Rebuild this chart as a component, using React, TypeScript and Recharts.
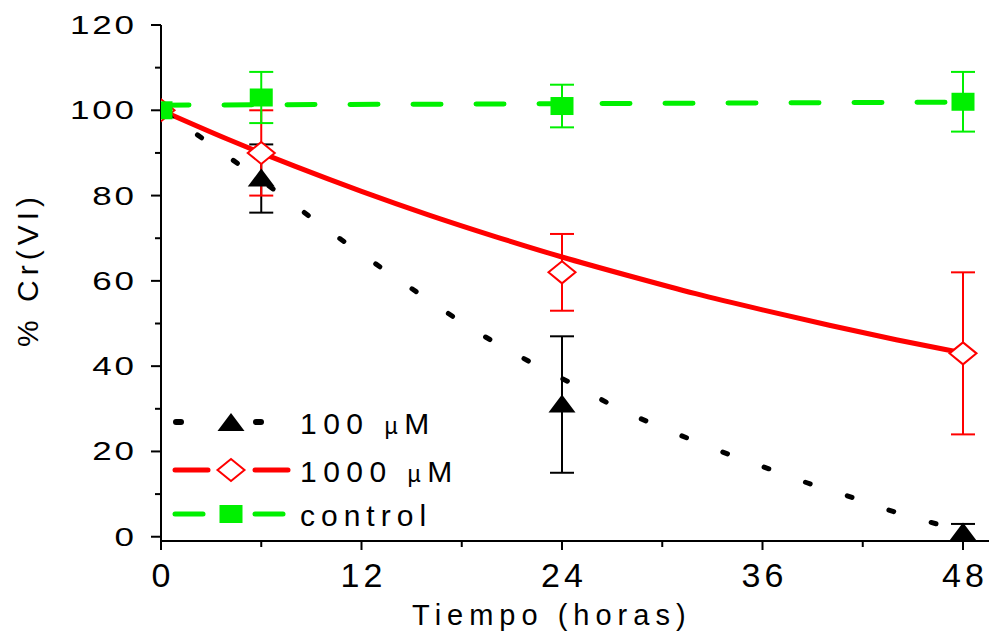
import React from 'react';
import { ComposedChart, Line, Scatter, XAxis, YAxis, ErrorBar } from 'recharts';

// Measured points
const hours = [0, 6, 24, 48];
const cr100 = [100, 84, 31, 1];
const cr100Err = [0, 8, 16, 2];
const cr1000 = [100, 90, 62, 43];
const cr1000Err = [0, 10, 9, 19];
const controlVals = [100, 103, 101, 102];
const controlErr = [0, 6, 5, 7];

// Fitted curves
const fit100Hours = [0, 2.45, 4.7, 6.9, 9.2, 11.5, 13.8, 16.1, 18.3, 20.6, 22.9, 25.1, 27.3, 29.6, 31.9, 34.2, 36.4, 38.7, 41.0, 43.2, 45.5, 48];
const fit100Values = [100, 93.5, 87.2, 81, 74.2, 67.7, 61.4, 55.3, 49.5, 44.2, 39.3, 34.9, 30.2, 26.2, 22.5, 19.0, 15.9, 12.6, 9.7, 6.7, 4.0, 1.4];
const fit1000Hours = [0, 4, 8, 12, 16, 20, 24, 28, 32, 36, 40, 44, 48];
const fit1000Values = [100, 93.2, 86.9, 81.0, 75.5, 70.4, 65.6, 61.2, 57.0, 53.2, 49.6, 46.2, 43.1];
const fitControlHours = [0, 48];
const fitControlValues = [101.2, 101.9];

// Axis ticks
const xTicks = [0, 6, 12, 18, 24, 30, 36, 42, 48];
const xMajor = [0, 12, 24, 36, 48];
const yTicks = [0, 10, 20, 30, 40, 50, 60, 70, 80, 90, 100, 110, 120];
const yMajor = [0, 20, 40, 60, 80, 100, 120];

const legendLabels = ['100 ', '1000 ', 'control'];

const FONT = '"Liberation Sans", Arial, sans-serif';
const BLACK = '#000000';
const RED = '#ff0000';
const GREEN = '#00f000';

const toPoints = (xs: number[], ys: number[], errs?: number[]) =>
  xs.map((x, i) => ({ x, y: ys[i], err: errs ? errs[i] : 0 }));

const pts100 = toPoints(hours, cr100, cr100Err);
const pts1000 = toPoints(hours, cr1000, cr1000Err);
const ptsControl = toPoints(hours, controlVals, controlErr);
const fit100 = toPoints(fit100Hours, fit100Values);
const fit1000 = toPoints(fit1000Hours, fit1000Values);
const fitControl = toPoints(fitControlHours, fitControlValues);

const Triangle = (props: any) => {
  const { cx, cy } = props;
  return <polygon points={`${cx},${cy - 10} ${cx - 13.5},${cy + 8} ${cx + 13.5},${cy + 8}`} fill={BLACK} />;
};
const Diamond = (props: any) => {
  const { cx, cy } = props;
  return (
    <polygon
      points={`${cx},${cy - 11} ${cx + 13.5},${cy} ${cx},${cy + 11} ${cx - 13.5},${cy}`}
      fill="#ffffff"
      stroke={RED}
      strokeWidth={2}
    />
  );
};
const Square = (props: any) => {
  const { cx, cy } = props;
  return <rect x={cx - 11.5} y={cy - 9} width={23} height={18} fill={GREEN} />;
};

const XTick = (props: any) => {
  const { x, y, payload } = props;
  const major = xMajor.includes(payload.value);
  return (
    <g>
      <line x1={x} y1={y} x2={x} y2={y + (major ? 9 : 6)} stroke={BLACK} strokeWidth={2} />
      {major && (
        <text
          x={x + 2}
          y={y + 46}
          textAnchor="middle"
          fontFamily={FONT}
          fontSize={34}
          letterSpacing={4}
          fill={BLACK}
        >
          {payload.value}
        </text>
      )}
    </g>
  );
};

const YTick = (props: any) => {
  const { x, y, payload } = props;
  const major = yMajor.includes(payload.value);
  return (
    <g>
      <line x1={x - (major ? 10 : 6)} y1={y} x2={x} y2={y} stroke={BLACK} strokeWidth={2} />
      {major && (
        <text
          transform={`translate(${x - 27},${y + 9}) scale(1.4,1)`}
          textAnchor="end"
          fontFamily={FONT}
          fontSize={25}
          letterSpacing={2}
          dx={2}
          fill={BLACK}
        >
          {payload.value}
        </text>
      )}
    </g>
  );
};

const XTitle = () => (
  <text
    x={412}
    y={625}
    fontFamily={FONT}
    fontSize={29}
    letterSpacing={6}
    fill={BLACK}
  >
    Tiempo (horas)
  </text>
);

const YTitle = () => (
  <text
    transform="translate(38,272) rotate(-90)"
    textAnchor="middle"
    fontFamily={FONT}
    fontSize={30}
    letterSpacing={5}
    dx={2.5}
    fill={BLACK}
  >
    % Cr(VI)
  </text>
);

const LegendOverlay = () => {
  const rows = [422, 470, 514];
  const textX = 300;
  return (
    <svg
      width={989}
      height={640}
      style={{ position: 'absolute', left: 0, top: 0, pointerEvents: 'none' }}
    >
      {/* 100 uM */}
      <line x1={176} y1={rows[0]} x2={181} y2={rows[0]} stroke={BLACK} strokeWidth={6} strokeLinecap="round" />
      <line x1={256} y1={rows[0]} x2={261} y2={rows[0]} stroke={BLACK} strokeWidth={6} strokeLinecap="round" />
      <Triangle cx={231} cy={rows[0] + 1} />
      {/* 1000 uM */}
      <line x1={175} y1={rows[1]} x2={208} y2={rows[1]} stroke={RED} strokeWidth={5} strokeLinecap="round" />
      <line x1={255} y1={rows[1]} x2={288} y2={rows[1]} stroke={RED} strokeWidth={5} strokeLinecap="round" />
      <Diamond cx={231} cy={rows[1]} />
      {/* control */}
      <line x1={175} y1={rows[2]} x2={203} y2={rows[2]} stroke={GREEN} strokeWidth={5} strokeLinecap="round" />
      <line x1={255} y1={rows[2]} x2={283} y2={rows[2]} stroke={GREEN} strokeWidth={5} strokeLinecap="round" />
      <Square cx={231} cy={rows[2]} />
      {legendLabels.map((lab, i) => (
        <text
          key={i}
          x={textX}
          y={rows[i] + 12}
          fontFamily={FONT}
          fontSize={30}
          letterSpacing={i < 2 ? 6.5 : 6}
          fill={BLACK}
        >
          {lab}
          {i < 2 && (
            <>
              <tspan fontSize={23}>µ</tspan>
              <tspan>M</tspan>
            </>
          )}
        </text>
      ))}
    </svg>
  );
};

export default function App() {
  return (
    <div style={{ position: 'absolute', left: 0, top: 0, width: 989, height: 640, background: '#fff' }}>
      <ComposedChart width={989} height={640} margin={{ top: 25, right: 0, bottom: 0, left: 0 }}>
        <XAxis
          type="number"
          dataKey="x"
          domain={[0, 49.556]}
          allowDataOverflow
          ticks={xTicks}
          interval={0}
          tick={<XTick />}
          tickLine={false}
          tickSize={0}
          tickMargin={0}
          height={99}
          axisLine={{ stroke: BLACK, strokeWidth: 2 }}
          label={<XTitle />}
        />
        <YAxis
          type="number"
          dataKey="y"
          domain={[0, 120]}
          ticks={yTicks}
          interval={0}
          tick={<YTick />}
          tickLine={false}
          tickSize={0}
          tickMargin={0}
          width={161}
          axisLine={{ stroke: BLACK, strokeWidth: 2 }}
          label={<YTitle />}
        />
        <Line
          data={fit100}
          dataKey="y"
          type="monotone"
          stroke={BLACK}
          strokeWidth={5}
          strokeDasharray="5 39"
          strokeLinecap="round"
          dot={false}
          activeDot={false}
          isAnimationActive={false}
        />
        <Line
          data={fit1000}
          dataKey="y"
          type="monotone"
          stroke={RED}
          strokeWidth={5}
          dot={false}
          activeDot={false}
          isAnimationActive={false}
        />
        <Line
          data={fitControl}
          dataKey="y"
          type="linear"
          stroke={GREEN}
          strokeWidth={5}
          strokeDasharray="28 35"
          strokeLinecap="round"
          dot={false}
          activeDot={false}
          isAnimationActive={false}
        />
        <Scatter data={pts100} dataKey="y" shape={Triangle} isAnimationActive={false}>
          <ErrorBar dataKey="err" direction="y" width={12} stroke={BLACK} strokeWidth={2} />
        </Scatter>
        <Scatter data={pts1000} dataKey="y" shape={Diamond} isAnimationActive={false}>
          <ErrorBar dataKey="err" direction="y" width={12} stroke={RED} strokeWidth={2} />
        </Scatter>
        <Scatter data={ptsControl} dataKey="y" shape={Square} isAnimationActive={false}>
          <ErrorBar dataKey="err" direction="y" width={12} stroke={GREEN} strokeWidth={2} />
        </Scatter>
      </ComposedChart>
      <LegendOverlay />
    </div>
  );
}
